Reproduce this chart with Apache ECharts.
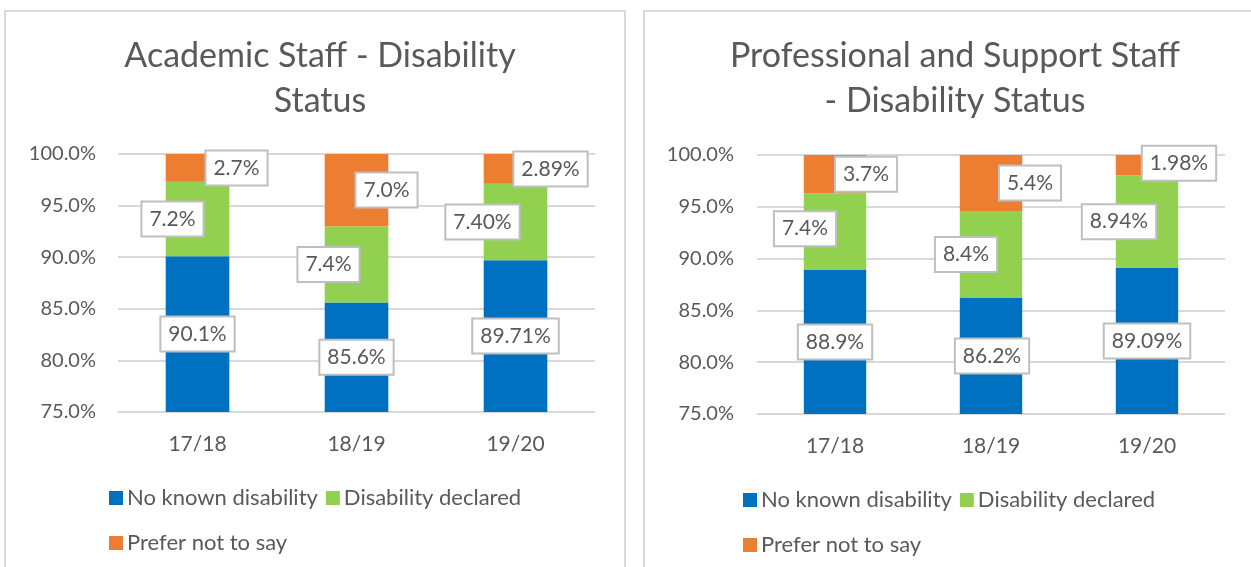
<!DOCTYPE html>
<html>
<head>
<meta charset="utf-8">
<script src="https://cdn.jsdelivr.net/npm/echarts@6/dist/echarts.min.js"></script>
<style>
html,body{margin:0;padding:0;background:#fff;}
#c{width:1251px;height:567px;}
</style>
</head>
<body>
<div id="c"></div>
<script>
// ---- data ----
const categories = ['17/18', '18/19', '19/20'];
const seriesNames = ['No known disability', 'Disability declared', 'Prefer not to say'];
const titles = ['Academic Staff - Disability\nStatus', 'Professional and Support Staff\n- Disability Status'];
// Academic staff (percent)
const acadNoKnown = [90.1, 85.6, 89.71];
const acadDeclared = [7.2, 7.4, 7.40];
const acadPreferNot = [2.7, 7.0, 2.89];
const acadLabels = [['90.1%', '85.6%', '89.71%'], ['7.2%', '7.4%', '7.40%'], ['2.7%', '7.0%', '2.89%']];
// Professional and support staff (percent)
const profNoKnown = [88.9, 86.2, 89.09];
const profDeclared = [7.4, 8.4, 8.94];
const profPreferNot = [3.7, 5.4, 1.98];
const profLabels = [['88.9%', '86.2%', '89.09%'], ['7.4%', '8.4%', '8.94%'], ['3.7%', '5.4%', '1.98%']];
// y-axis ticks
const yMin = 75, yMax = 100, yStep = 5;

// ---- styles (label placement offsets, px) ----
const colors = ['#0070C0', '#92D050', '#ED7D31'];
const acadOffsets = [
  [[0, 0], [0, 0], [0, 0]],
  [[-25, 0], [-28, 0], [-33, 0]],
  [[39, 0], [30, 0], [35, 0]]
];
const profOffsets = [
  [[0, 0], [1, 0], [0, 0]],
  [[-30, -3], [-25, 0], [-28, 0]],
  [[31, 0], [39, 0], [32, -2]]
];
const FONT = 'Lato, "Open Sans", sans-serif';
const TXT = '#595959';

function makeSeries(gridIdx, values, labels, offsets) {
  return values.map((vals, si) => ({
    name: seriesNames[si],
    type: 'bar',
    stack: 'g' + gridIdx,
    xAxisIndex: gridIdx,
    yAxisIndex: gridIdx,
    barWidth: '40%',
    clip: true,
    itemStyle: { color: colors[si] },
    emphasis: { disabled: true },
    data: vals.map((v, i) => ({
      value: v,
      label: {
        show: true,
        position: 'inside',
        offset: offsets[si][i],
        formatter: () => labels[si][i]
      }
    })),
    label: {
      show: true,
      position: 'inside',
      color: TXT,
      fontFamily: FONT,
      fontSize: 21,
      lineHeight: 22,
      backgroundColor: '#fff',
      borderColor: '#BFBFBF',
      borderWidth: 2,
      padding: [6, 7, 5, 7]
    }
  }));
}

const chart = echarts.init(document.getElementById('c'), null, { renderer: 'canvas' });

const grids = [
  { left: 118, top: 154, width: 477, height: 258 },
  { left: 757, top: 155, width: 468, height: 259 }
];

function xAxis(g, margin) {
  return {
    type: 'category', gridIndex: g, data: categories,
    axisLine: { show: false }, axisTick: { show: false },
    axisLabel: { color: TXT, fontFamily: FONT, fontSize: 21, margin: margin }
  };
}
function yAxis(g, margin) {
  return {
    type: 'value', gridIndex: g, min: yMin, max: yMax, interval: yStep,
    axisLine: { show: false }, axisTick: { show: false },
    splitLine: { lineStyle: { color: '#D9D9D9', width: 2 } },
    axisLabel: { color: TXT, fontFamily: FONT, fontSize: 20, margin: margin,
      formatter: v => v.toFixed(1) + '%' }
  };
}

function legend(left, top, names) {
  return {
    left: left, top: top, data: names,
    icon: 'rect', itemWidth: 14, itemHeight: 14, itemGap: 8,
    selectedMode: false,
    textStyle: { color: TXT, fontFamily: FONT, fontSize: 22, padding: [0, 0, 0, -1] }
  };
}

chart.setOption({
  animation: false,
  backgroundColor: '#fff',
  title: [
    { text: titles[0], left: 315, top: 29, textAlign: 'center',
      textStyle: { color: TXT, fontFamily: FONT, fontWeight: 'normal', fontSize: 34, lineHeight: 45 } },
    { text: titles[1], left: 950, top: 29, textAlign: 'center',
      textStyle: { color: TXT, fontFamily: FONT, fontWeight: 'normal', fontSize: 34, lineHeight: 45 } }
  ],
  graphic: [
    { type: 'rect', shape: { x: 5, y: 11, width: 620, height: 600 }, style: { fill: 'none', stroke: '#D9D9D9', lineWidth: 2 }, silent: true, z: -1 },
    { type: 'rect', shape: { x: 644, y: 11, width: 640, height: 600 }, style: { fill: 'none', stroke: '#D9D9D9', lineWidth: 2 }, silent: true, z: -1 }
  ],
  legend: [
    legend(104, 482, [seriesNames[0], seriesNames[1]]),
    legend(104, 527, [seriesNames[2]]),
    legend(738, 484, [seriesNames[0], seriesNames[1]]),
    legend(738, 529, [seriesNames[2]])
  ],
  grid: grids,
  xAxis: [xAxis(0, 22), xAxis(1, 22)],
  yAxis: [yAxis(0, 22), yAxis(1, 23)],
  series: [
    ...makeSeries(0, [acadNoKnown, acadDeclared, acadPreferNot], acadLabels, acadOffsets),
    ...makeSeries(1, [profNoKnown, profDeclared, profPreferNot], profLabels, profOffsets)
  ]
});
</script>
</body>
</html>
